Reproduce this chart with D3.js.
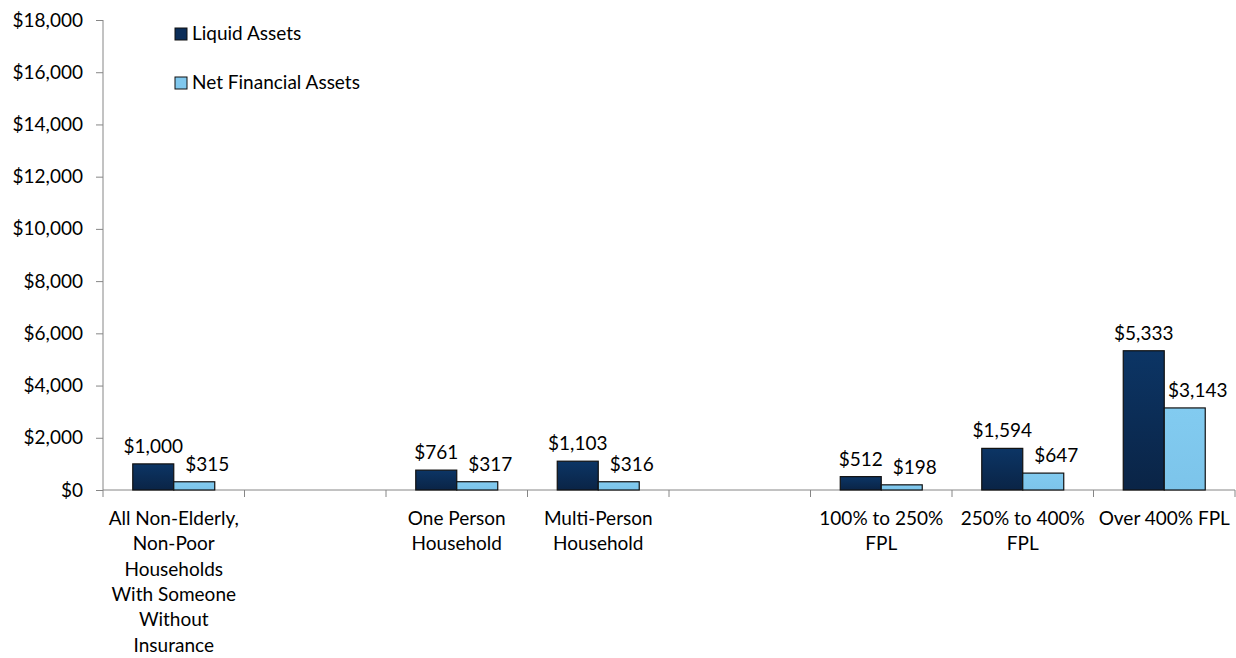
<!DOCTYPE html>
<html><head><meta charset="utf-8">
<script src="https://cdn.jsdelivr.net/npm/d3@7"></script>
<style>
html,body{margin:0;padding:0;background:#fff;}
svg text{font-family:Lato,"Open Sans",sans-serif;fill:#000;}
</style></head>
<body><svg id="chart" width="1236" height="658"></svg>
<script>
const categories = [
  ["All Non-Elderly,","Non-Poor","Households","With Someone","Without","Insurance"],
  [],
  ["One Person","Household"],
  ["Multi-Person","Household"],
  [],
  ["100% to 250%","FPL"],
  ["250% to 400%","FPL"],
  ["Over 400% FPL"]
];
const seriesNames = ["Liquid Assets","Net Financial Assets"];
const liquidAssets = [1000, null, 761, 1103, null, 512, 1594, 5333];
const netFinancialAssets = [315, null, 317, 316, null, 198, 647, 3143];
const yTicks = [0,2000,4000,6000,8000,10000,12000,14000,16000,18000];

(function(){
const svg = d3.select("#chart");
const mLeft = 103, mRight = 1235, mTop = 20, mBottom = 490;
const fontSize = 19;

const x = d3.scaleBand().domain(d3.range(categories.length)).range([mLeft,mRight]).paddingInner(0).paddingOuter(0);
const x1 = d3.scaleBand().domain([0,1]).range([0,x.bandwidth()]).paddingInner(0).paddingOuter(0.726);
const y = d3.scaleLinear().domain([0,18000]).range([mBottom,mTop]);
const fmt = v => "$" + d3.format(",")(v);

const defs = svg.append("defs");
const g1 = defs.append("linearGradient").attr("id","gDark").attr("x1",0).attr("y1",0).attr("x2",0).attr("y2",1);
g1.append("stop").attr("offset","0%").attr("stop-color","#0c3565");
g1.append("stop").attr("offset","100%").attr("stop-color","#0a2446");
const g2 = defs.append("linearGradient").attr("id","gLight").attr("x1",0).attr("y1",0).attr("x2",0).attr("y2",1);
g2.append("stop").attr("offset","0%").attr("stop-color","#82cbf0");
g2.append("stop").attr("offset","100%").attr("stop-color","#7cc4ea");
const fills = ["url(#gDark)","url(#gLight)"];
const legendFills = ["#0b2d58","#80c8ee"];
const labelDx = [0, 13];

// Y axis
const yAxis = svg.append("g").attr("transform",`translate(${mLeft},0)`)
  .call(d3.axisLeft(y).tickValues(yTicks).tickFormat(fmt).tickSize(7).tickPadding(13));
yAxis.select(".domain").attr("stroke","#868686").attr("d",`M0,${mTop}V${mBottom}`);
yAxis.selectAll(".tick line").attr("stroke","#868686");
yAxis.selectAll(".tick text").style("font-size",fontSize+"px").attr("font-family",null);

// X axis
const xAxisG = svg.append("g").attr("transform",`translate(0,${mBottom})`);
xAxisG.append("line").attr("x1",mLeft).attr("x2",mRight).attr("stroke","#868686");
const tickPos = d3.range(categories.length+1).map(i => i < categories.length ? x(i) : x(categories.length-1)+x.bandwidth());
xAxisG.selectAll(".xt").data(tickPos).join("line")
  .attr("x1",d=>d).attr("x2",d=>d).attr("y1",0).attr("y2",7).attr("stroke","#868686");
categories.forEach((lines,i) => {
  const t = xAxisG.append("text").attr("text-anchor","middle").style("font-size",fontSize+"px")
    .attr("transform",`translate(${x(i)+x.bandwidth()/2},0)`);
  lines.forEach((ln,j) => t.append("tspan").attr("x",0).attr("y",35 + j*25.3).text(ln));
});

// Bars
const series = [liquidAssets, netFinancialAssets];
series.forEach((vals,s) => {
  const data = vals.map((v,i)=>({i,v})).filter(d=>d.v!=null);
  svg.append("g").selectAll("rect").data(data).join("rect")
    .attr("x",d=>x(d.i)+x1(s)).attr("width",x1.bandwidth())
    .attr("y",d=>y(d.v)).attr("height",d=>y(0)-y(d.v))
    .attr("fill",fills[s]).attr("stroke","#111").attr("stroke-width",1.2);
  svg.append("g").selectAll("text").data(data).join("text")
    .attr("x",d=>x(d.i)+x1(s)+x1.bandwidth()/2+labelDx[s]).attr("y",d=>y(d.v)-11)
    .attr("text-anchor","middle").style("font-size",fontSize+"px")
    .text(d=>fmt(d.v));
});

// Legend
const leg = svg.append("g");
seriesNames.forEach((n,i) => {
  const gy = 28 + i*49;
  leg.append("rect").attr("x",175).attr("y",gy).attr("width",12).attr("height",12)
    .attr("fill",legendFills[i]).attr("stroke","#111").attr("stroke-width",1);
  leg.append("text").attr("x",192).attr("y",gy+12).style("font-size",fontSize+"px").text(n);
});
})();
</script></body></html>
